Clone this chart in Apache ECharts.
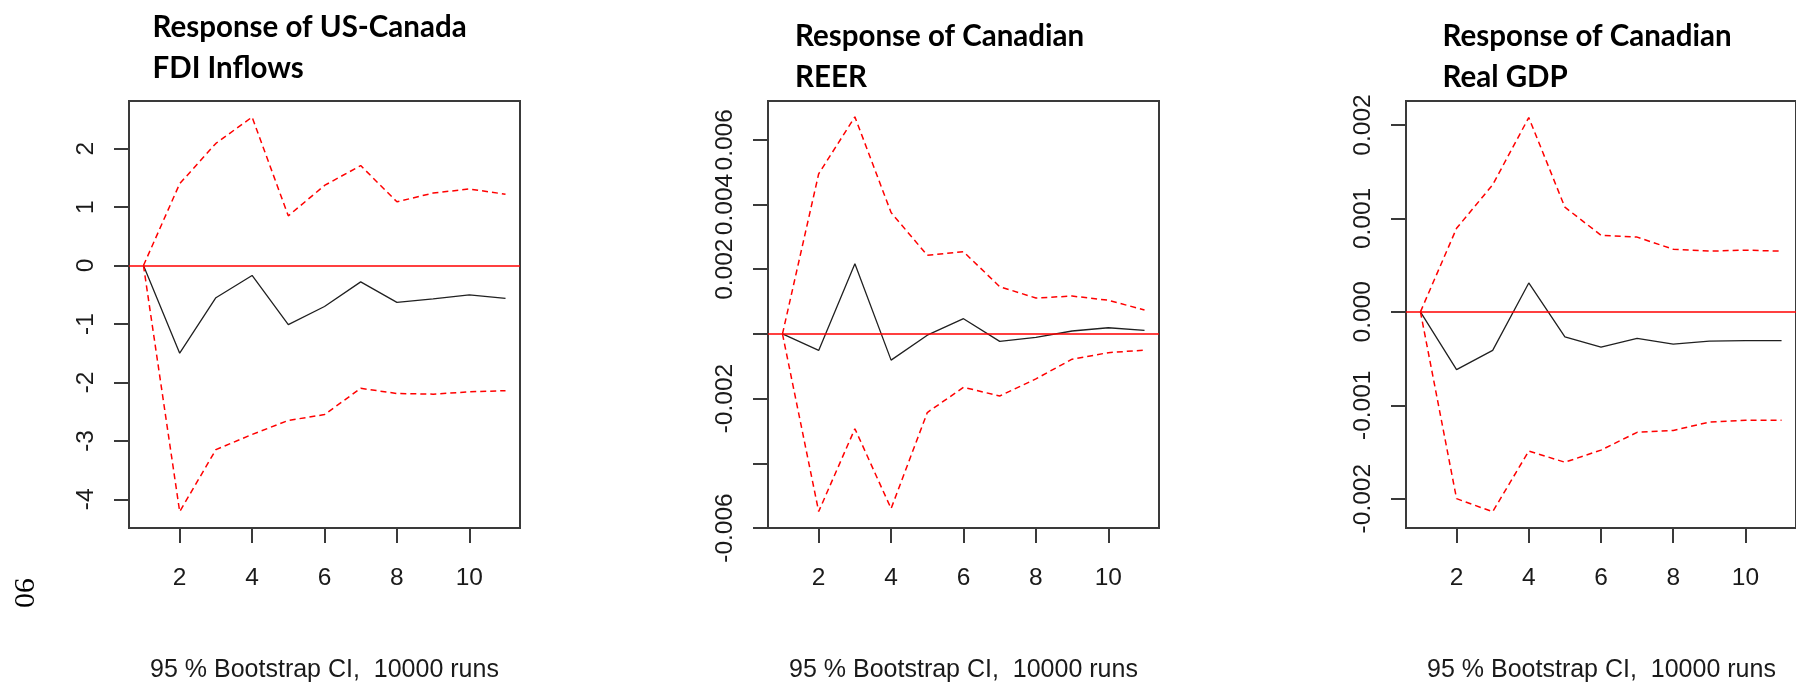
<!DOCTYPE html>
<html>
<head>
<meta charset="utf-8">
<script src="https://cdn.jsdelivr.net/npm/echarts@6/dist/echarts.min.js"></script>
<style>
  html, body { margin: 0; padding: 0; background: #ffffff; }
  #main { width: 1796px; height: 684px; }
</style>
</head>
<body>
<div id="main"></div>
<script>
// Impulse responses over an 11-period horizon with 95% bootstrap bands
const periods = [1, 2, 3, 4, 5, 6, 7, 8, 9, 10, 11];
const periodTicks = [2, 4, 6, 8, 10];

// Response of US-Canada FDI inflows
const fdiIrf   = [0, -1.50, -0.55, -0.17, -1.01, -0.70, -0.28, -0.63, -0.57, -0.50, -0.56];
const fdiLower = [0, -4.21, -3.15, -2.89, -2.65, -2.55, -2.10, -2.19, -2.20, -2.16, -2.14];
const fdiUpper = [0, 1.40, 2.09, 2.54, 0.85, 1.37, 1.71, 1.09, 1.24, 1.31, 1.22];
const fdiRange = [-4.49, 2.815];
const fdiTicks = [-4, -3, -2, -1, 0, 1, 2];
const fdiLabels = [-4, -3, -2, -1, 0, 1, 2];

// Response of Canadian REER
const reerIrf   = [0, -0.00051, 0.00217, -0.00081, -0.00004, 0.00047, -0.00023, -0.00011, 0.00009, 0.00019, 0.00011];
const reerLower = [0, -0.00549, -0.00293, -0.00540, -0.00243, -0.00165, -0.00192, -0.00139, -0.00078, -0.00058, -0.00050];
const reerUpper = [0, 0.00495, 0.00671, 0.00375, 0.00243, 0.00254, 0.00146, 0.00111, 0.00117, 0.00104, 0.00074];
const reerRange = [-0.0060, 0.0072];
const reerTicks = [-0.006, -0.004, -0.002, 0, 0.002, 0.004, 0.006];
const reerLabels = [-0.006, -0.002, 0.002, 0.004, 0.006];

// Response of Canadian real GDP
const gdpIrf   = [0, -0.000618, -0.000412, 0.000309, -0.000267, -0.000379, -0.000285, -0.000346, -0.000313, -0.000309, -0.000309];
const gdpLower = [0, -0.00200, -0.00214, -0.00149, -0.00161, -0.00148, -0.00129, -0.00127, -0.00118, -0.00116, -0.00116];
const gdpUpper = [0, 0.000894, 0.00136, 0.00208, 0.00112, 0.00082, 0.00080, 0.00067, 0.00065, 0.00066, 0.00065];
const gdpRange = [-0.002314, 0.002257];
const gdpTicks = [-0.002, -0.001, 0, 0.001, 0.002];
const gdpLabels = [-0.002, -0.001, 0, 0.001, 0.002];

const titles = [
  ['Response of US-Canada', 'FDI Inflows'],
  ['Response of Canadian', 'REER'],
  ['Response of Canadian', 'Real GDP']
];
const caption = '95 % Bootstrap CI,  10000 runs';
const pageNumber = '90';

const panels = [
  { irf: fdiIrf, lower: fdiLower, upper: fdiUpper, range: fdiRange, ticks: fdiTicks, labels: fdiLabels, fmt: v => String(v) },
  { irf: reerIrf, lower: reerLower, upper: reerUpper, range: reerRange, ticks: reerTicks, labels: reerLabels, fmt: v => v.toFixed(3) },
  { irf: gdpIrf, lower: gdpLower, upper: gdpUpper, range: gdpRange, ticks: gdpTicks, labels: gdpLabels, fmt: v => v.toFixed(3) }
];

// Plot-region geometry of each panel
const boxLeft = [129, 768, 1406];
const boxTop = 101;
const boxW = 391;
const boxH = 427;
const titleLeft = [152.5, 795, 1442.5];
const titleMid = [[27, 68], [36, 77], [36, 77]];
const titleSize = 29.5;

const axisColor = '#3a3a3a';
const textColor = '#1a1a1a';
const labelFont = '"Liberation Sans", Arial, sans-serif';

const pairs = arr => periods.map((p, i) => [p, arr[i]]);

const grid = [], xAxis = [], yAxis = [], series = [], graphic = [];

panels.forEach((pn, k) => {
  grid.push({
    left: boxLeft[k], top: boxTop, width: boxW, height: boxH,
    show: true, borderColor: axisColor, borderWidth: 2, backgroundColor: 'transparent'
  });
  xAxis.push({
    type: 'value', gridIndex: k, position: 'bottom', min: 0.6, max: 11.4,
    axisLine: { show: false, onZero: false },
    splitLine: { show: false },
    axisTick: { show: true, inside: false, length: 15, customValues: periodTicks, lineStyle: { color: axisColor, width: 2 } },
    axisLabel: { show: true, customValues: periodTicks, margin: 38, fontSize: 24.5, fontFamily: labelFont, color: textColor }
  });
  yAxis.push({
    type: 'value', gridIndex: k, position: 'left', min: pn.range[0], max: pn.range[1],
    axisLine: { show: false, onZero: false },
    splitLine: { show: false },
    axisTick: { show: true, inside: false, length: 15, customValues: pn.ticks, lineStyle: { color: axisColor, width: 2 } },
    axisLabel: {
      show: true, customValues: pn.labels, rotate: 90, margin: 30, hideOverlap: false,
      fontSize: 24.5, fontFamily: labelFont, color: textColor, formatter: pn.fmt
    }
  });
  const common = { xAxisIndex: k, yAxisIndex: k, type: 'line', symbol: 'none', silent: true, animation: false };
  series.push(Object.assign({}, common, {
    name: 'irf' + k, data: pairs(pn.irf), z: 3,
    lineStyle: { color: '#202020', width: 1.3 },
    markLine: {
      silent: true, symbol: ['none', 'none'], animation: false, z: 5,
      label: { show: false },
      lineStyle: { color: '#ff0000', type: 'solid', width: 1.6 },
      data: [{ yAxis: 0 }]
    }
  }));
  series.push(Object.assign({}, common, {
    name: 'lower' + k, data: pairs(pn.lower), z: 4,
    lineStyle: { color: '#ff0000', width: 1.5, type: [6, 4] }
  }));
  series.push(Object.assign({}, common, {
    name: 'upper' + k, data: pairs(pn.upper), z: 4,
    lineStyle: { color: '#ff0000', width: 1.5, type: [6, 4] }
  }));

  titles[k].forEach((line, j) => {
    graphic.push({
      type: 'text', x: titleLeft[k], y: titleMid[k][j],
      style: {
        text: line, font: 'bold ' + titleSize + 'px Lato, "Noto Sans", sans-serif',
        fill: '#000000', align: 'left', verticalAlign: 'middle'
      }
    });
  });
  graphic.push({
    type: 'text',
    x: boxLeft[k] + boxW / 2, y: 670,
    style: { text: caption, font: '25px ' + labelFont, fill: textColor, align: 'center', verticalAlign: 'middle' }
  });
});

graphic.push({
  type: 'text', x: 22.5, y: 593, rotation: -Math.PI / 2,
  style: { text: pageNumber, font: '30px "Liberation Serif", "Times New Roman", serif', fill: '#000000', align: 'center', verticalAlign: 'middle' }
});

const chart = echarts.init(document.getElementById('main'), null, { renderer: 'canvas' });
chart.setOption({
  animation: false,
  backgroundColor: '#ffffff',
  grid, xAxis, yAxis, series, graphic
});
</script>
</body>
</html>
